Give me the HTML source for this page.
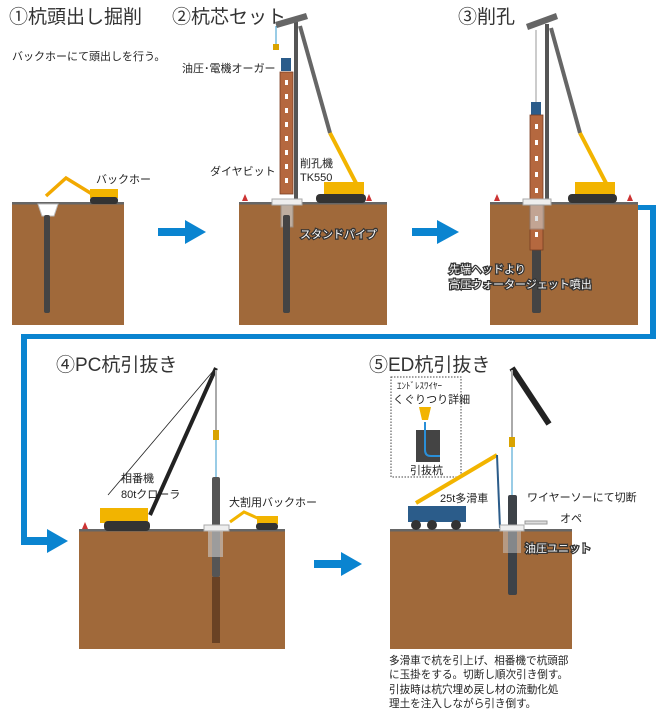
<!DOCTYPE html>
<html><head><meta charset="utf-8"><style>
html,body{margin:0;padding:0;background:#fff}
svg{display:block}
text{font-family:"Liberation Sans","Noto Sans CJK JP",sans-serif;fill:#222}
.t{font-size:19px;fill:#333}
.s{font-size:11px}
.b{font-size:10.6px}
.w{font-size:11px;fill:#fff;stroke:#333;stroke-width:2.5px;paint-order:stroke}
</style></head><body>
<svg width="662" height="710" viewBox="0 0 662 710" xmlns="http://www.w3.org/2000/svg">
<!-- soil -->
<g fill="#a0693a">
<rect x="12" y="204" width="112" height="121"/>
<rect x="239" y="204" width="148" height="121"/>
<rect x="490" y="204" width="148" height="121"/>
<rect x="79" y="531" width="206" height="118"/>
<rect x="390" y="531" width="182" height="118"/>
</g>
<g fill="#666">
<rect x="12" y="202" width="112" height="2.5"/>
<rect x="239" y="202" width="148" height="2.5"/>
<rect x="490" y="202" width="148" height="2.5"/>
<rect x="79" y="529" width="206" height="2.5"/>
<rect x="390" y="529" width="182" height="2.5"/>
</g>
<!-- blue connectors -->
<g fill="#0a84d0">
<rect x="158" y="228" width="28" height="8"/>
<polygon points="185,220 206,232 185,244"/>
<rect x="412" y="228" width="26" height="8"/>
<polygon points="437,220 459,232 437,244"/>
<rect x="314" y="560" width="28" height="8"/>
<polygon points="341,552 362,564 341,576"/>
<rect x="638" y="205" width="16" height="5"/>
<rect x="650" y="205" width="6" height="134"/>
<rect x="21" y="334" width="635" height="5"/>
<rect x="21" y="334" width="6" height="210"/>
<rect x="21" y="537" width="28" height="8"/>
<polygon points="47,529 68,541 47,553"/>
</g>
<!-- titles -->
<text class="t" x="9" y="23">①杭頭出し掘削</text>
<text class="t" x="172" y="23">②杭芯セット</text>
<text class="t" x="458" y="23">③削孔</text>
<text class="t" x="56" y="371">④PC杭引抜き</text>
<text class="t" x="369" y="371">⑤ED杭引抜き</text>
<text class="s" x="12" y="60">バックホーにて頭出しを行う。</text>

<!-- panel 1 -->
<polygon points="38,204 58,204 54,216 42,216" fill="#fff" stroke="#bbb"/>
<rect x="44" y="215" width="6" height="98" rx="2" fill="#444"/>
<g stroke="#f2a900" stroke-width="3.5" fill="none"><polyline points="46,196 66,178 92,194"/></g>
<rect x="90" y="189" width="28" height="9" fill="#f2b400"/>
<rect x="90" y="197" width="28" height="7" rx="3" fill="#333"/>
<text class="s" x="96" y="183">バックホー</text>

<!-- panel 2 rig -->
<rect x="294" y="22" width="4" height="181" fill="#555"/>
<polygon points="275,22 306,13 308,19 277,28" fill="#666"/>
<line x1="300" y1="26" x2="330" y2="133" stroke="#666" stroke-width="4"/>
<line x1="330" y1="133" x2="356" y2="183" stroke="#f2b400" stroke-width="4"/>
<rect x="324" y="182" width="40" height="13" fill="#f2b400"/>
<rect x="316" y="194" width="50" height="9" rx="4" fill="#333"/>
<rect x="280" y="72" width="13" height="122" fill="#b5683f" stroke="#7a3e22" stroke-width="0.8"/>
<g fill="#fff"><rect x="285" y="80" width="3" height="5"/><rect x="285" y="94" width="3" height="5"/><rect x="285" y="108" width="3" height="5"/><rect x="285" y="122" width="3" height="5"/><rect x="285" y="136" width="3" height="5"/><rect x="285" y="150" width="3" height="5"/><rect x="285" y="164" width="3" height="5"/><rect x="285" y="178" width="3" height="5"/></g>
<rect x="281" y="58" width="10" height="13" fill="#2b5c8a"/>
<line x1="276" y1="26" x2="276" y2="45" stroke="#39c"/><rect x="273" y="44" width="6" height="6" fill="#d9a300"/>
<rect x="272" y="199" width="30" height="6" fill="#eee" stroke="#aaa"/>
<rect x="281" y="205" width="12" height="22" fill="#ccc" opacity="0.7" stroke="#999"/>
<rect x="283" y="215" width="7" height="98" rx="2" fill="#444"/>
<polygon points="242,201 248,201 245,194" fill="#c33"/><polygon points="366,201 372,201 369,194" fill="#c33"/>
<text class="s" x="182" y="72">油圧･電機オーガー</text>
<text class="s" x="210" y="175">ダイヤビット</text>
<text class="s" x="300" y="167">削孔機</text>
<text class="s" x="300" y="181">TK550</text>
<text class="w" x="300" y="238">スタンドパイプ</text>

<!-- panel 3 rig -->
<rect x="545" y="24" width="4" height="179" fill="#555"/>
<polygon points="526,24 556,13 558,19 528,30" fill="#666"/>
<line x1="551" y1="28" x2="580" y2="133" stroke="#666" stroke-width="4"/>
<line x1="580" y1="133" x2="606" y2="183" stroke="#f2b400" stroke-width="4"/>
<rect x="575" y="182" width="40" height="13" fill="#f2b400"/>
<rect x="568" y="194" width="49" height="9" rx="4" fill="#333"/>
<line x1="536" y1="30" x2="536" y2="102" stroke="#ccc" stroke-width="2"/>
<rect x="531" y="102" width="10" height="13" fill="#2b5c8a"/>
<rect x="532" y="240" width="9" height="73" rx="2" fill="#444"/>
<rect x="530" y="115" width="13" height="135" fill="#b5683f" stroke="#7a3e22" stroke-width="0.8"/>
<g fill="#fff"><rect x="535" y="124" width="3" height="5"/><rect x="535" y="140" width="3" height="5"/><rect x="535" y="156" width="3" height="5"/><rect x="535" y="172" width="3" height="5"/><rect x="535" y="188" width="3" height="5"/><rect x="535" y="216" width="3" height="5"/><rect x="535" y="232" width="3" height="5"/></g>
<rect x="523" y="199" width="28" height="6" fill="#eee" stroke="#aaa"/>
<rect x="530" y="205" width="14" height="24" fill="#ccc" opacity="0.6" stroke="#999"/>
<polygon points="494,201 500,201 497,194" fill="#c33"/><polygon points="627,201 633,201 630,194" fill="#c33"/>
<text class="w" x="449" y="273">先端ヘッドより</text>
<text class="w" x="449" y="288">高圧ウォータージェット噴出</text>

<!-- panel 4 crane -->
<line x1="150" y1="515" x2="216" y2="368" stroke="#222" stroke-width="4"/>
<line x1="108" y1="495" x2="214" y2="370" stroke="#222" stroke-width="0.8"/>
<line x1="216" y1="370" x2="216" y2="432" stroke="#aaa" stroke-width="2"/>
<rect x="213" y="430" width="6" height="10" fill="#d9a300"/>
<line x1="216" y1="440" x2="216" y2="478" stroke="#39c" stroke-width="1"/>
<rect x="100" y="508" width="48" height="15" fill="#f2b400"/>
<rect x="104" y="521" width="46" height="10" rx="4" fill="#333"/>
<rect x="212" y="477" width="8" height="100" rx="2" fill="#555"/>
<rect x="212" y="577" width="8" height="66" fill="#6a4224"/>
<rect x="204" y="525" width="25" height="6" fill="#eee" stroke="#aaa"/>
<rect x="208" y="531" width="15" height="26" fill="#ccc" opacity="0.6"/>
<polyline points="230,522 244,512 264,521" stroke="#f2b400" stroke-width="3" fill="none"/>
<rect x="257" y="516" width="21" height="8" fill="#f2b400"/><rect x="256" y="523" width="22" height="7" rx="3" fill="#333"/>
<polygon points="82,529 88,529 85,522" fill="#c33"/>
<text class="s" x="121" y="482">相番機</text>
<text class="s" x="121" y="498">80tクローラ</text>
<text class="s" x="229" y="506">大割用バックホー</text>

<!-- panel 5 -->
<rect x="391" y="377" width="70" height="100" fill="none" stroke="#444" stroke-dasharray="1.5 1.5"/>
<text x="397" y="389" style="font-size:9px">ｴﾝﾄﾞﾚｽﾜｲﾔｰ</text>
<text class="s" x="393" y="403">くぐりつり詳細</text>
<polygon points="419,407 431,407 428,420 422,420" fill="#f2b400"/>
<rect x="416" y="430" width="24" height="32" fill="#444"/>
<path d="M425 422 v28 q0 6 6 6 h9" stroke="#2a8fd8" stroke-width="2" fill="none"/>
<text class="s" x="410" y="474">引抜杭</text>
<line x1="512" y1="368" x2="549" y2="424" stroke="#222" stroke-width="6"/>
<line x1="512" y1="370" x2="512" y2="440" stroke="#aaa" stroke-width="2"/>
<rect x="509" y="437" width="6" height="10" fill="#d9a300"/>
<line x1="512" y1="447" x2="512" y2="495" stroke="#39c"/>
<line x1="416" y1="503" x2="497" y2="455" stroke="#f2b400" stroke-width="4"/>
<line x1="497" y1="455" x2="500" y2="528" stroke="#2b5c8a" stroke-width="2"/>
<rect x="408" y="506" width="58" height="16" fill="#2b5c8a"/>
<circle cx="416" cy="525" r="5" fill="#333"/><circle cx="432" cy="525" r="5" fill="#333"/><circle cx="456" cy="525" r="5" fill="#333"/>
<rect x="508" y="495" width="9" height="100" rx="2" fill="#3d4248"/>
<rect x="500" y="525" width="24" height="6" fill="#eee" stroke="#aaa"/>
<rect x="503" y="531" width="18" height="22" fill="#ccc" opacity="0.5"/>
<rect x="525" y="521" width="22" height="3" fill="#ddd" stroke="#999"/>
<text class="s" x="440" y="502">25t多滑車</text>
<text class="s" x="527" y="501">ワイヤーソーにて切断</text>
<text class="s" x="560" y="522">オペ</text>
<text class="w" x="525" y="552">油圧ユニット</text>
<text class="b" x="389" y="664">多滑車で杭を引上げ、相番機で杭頭部</text>
<text class="b" x="389" y="678">に玉掛をする。切断し順次引き倒す。</text>
<text class="b" x="389" y="693">引抜時は杭穴埋め戻し材の流動化処</text>
<text class="b" x="389" y="707">理土を注入しながら引き倒す。</text>
</svg>
</body></html>
